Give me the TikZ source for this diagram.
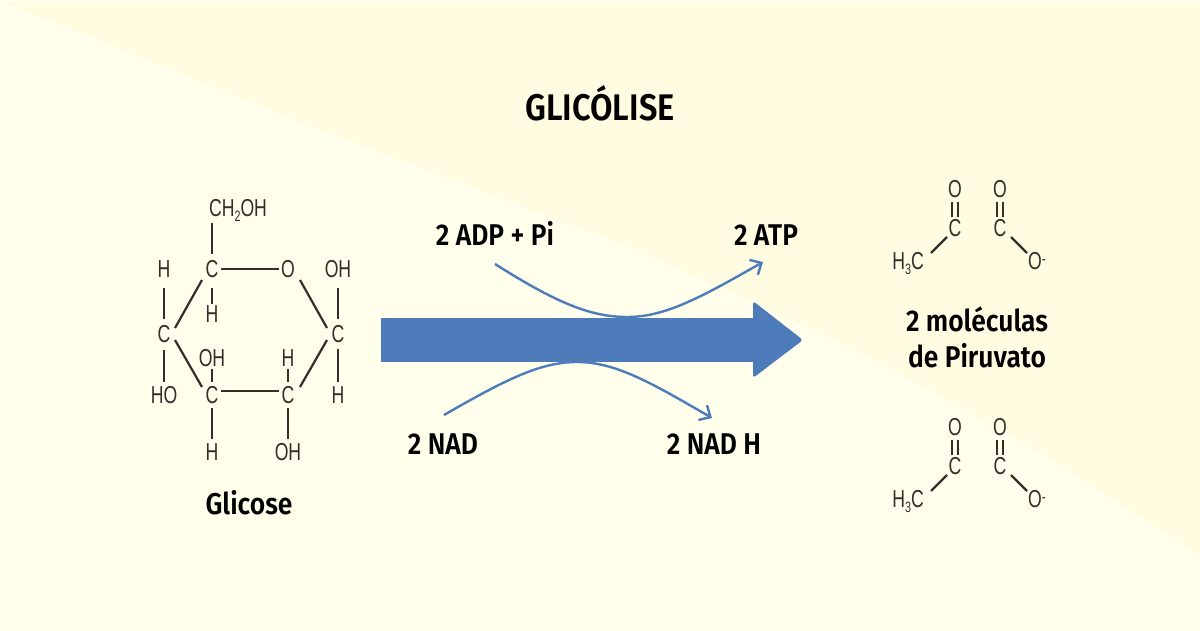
\documentclass[tikz,border=0pt]{standalone}
\usepackage{fontspec}
\usetikzlibrary{arrows.meta}
\setmainfont{Fira Sans}
\newfontfamily\chemfont[FakeStretch=0.72]{Liberation Sans}
\newfontfamily\labfont[FakeStretch=0.88]{Fira Sans SemiBold}
\definecolor{bgpale}{HTML}{FFFFEC}
\definecolor{bgband}{HTML}{FFFCE2}
\definecolor{ink}{HTML}{332E2A}
\definecolor{flow}{HTML}{4E7CBA}
\newcommand{\subtwo}[1]{\raisebox{-5pt}{\fontsize{15}{15}\selectfont #1}}
\tikzset{
  x=1pt,y=-1pt,
  atom/.style={inner sep=0pt,outer sep=0pt,minimum width=18pt,minimum height=30pt,text height=17pt,text depth=0pt,text=ink,font=\chemfont\fontsize{24.5}{24.5}\selectfont},
  sideatom/.style={atom,minimum height=26pt},
  bond/.style={draw=ink,line width=2.2pt},
  heading/.style={inner sep=0pt,text=black,font=\labfont\fontsize{37}{37}\selectfont},
  caption/.style={inner sep=0pt,text=black,text height=20pt,text depth=0pt,font=\labfont\fontsize{30}{30}\selectfont},
  thinflow/.style={draw=flow,line width=2.4pt,-{Straight Barb[length=9pt,width=17pt,line width=2.4pt]}},
}
\begin{document}
\begin{tikzpicture}
\useasboundingbox (0,0) rectangle (1200,631);
\fill[bgpale] (0,0) rectangle (1200,631);
\fill[bgband] (5,2) -- (300,122) -- (637,250) -- (820,333) -- (890,368) -- (1050,458) -- (1200,556) -- (1200,2) -- cycle;

% title
\node[heading] (title) at (600,103) {GLICÓLISE};

% glucose
\node[sideatom] (ch2oh) at (238,208) {CH\subtwo{2}OH};
\node[atom] (c1) at (212,269) {C};
\node[atom] (o5) at (288,269) {O};
\node[sideatom] (oh1) at (338,269) {OH};
\node[sideatom] (h4) at (164,269) {H};
\node[sideatom] (h1) at (212,314) {H};
\node[atom] (c4) at (164,334) {C};
\node[atom] (c6) at (338,334) {C};
\node[sideatom] (oh3) at (212,358) {OH};
\node[sideatom] (h3) at (288,358) {H};
\node[atom] (c3) at (212,395) {C};
\node[atom] (c2) at (288,395) {C};
\node[sideatom] (ho) at (164,395) {HO};
\node[sideatom] (h6) at (338,395) {H};
\node[sideatom] (h5) at (212,452) {H};
\node[sideatom] (oh2) at (288,452) {OH};

\draw[bond] ([xshift=-26pt,yshift=-2pt]ch2oh.south) -- (c1.north);
\draw[bond] (c1) -- (o5);
\draw[bond,shorten <=4pt,shorten >=-3pt] (c1) -- (h1);
\draw[bond] ([shift={(-10,11)}]c1.center) -- ([shift={(11,-6)}]c4.center);
\draw[bond,shorten <=6pt] (h4) -- (c4);
\draw[bond,shorten >=0pt,shorten <=1pt] (c4) -- (ho);
\draw[bond] ([shift={(11,6)}]c4.center) -- ([shift={(-10,-8)}]c3.center);
\draw[bond,shorten <=-2pt,shorten >=-2pt] (oh3) -- (c3);
\draw[bond] ([yshift=4pt]c3.east) -- ([yshift=4pt]c2.west);
\draw[bond,shorten <=-2pt] (c3) -- (h5);
\draw[bond,shorten <=-2pt,shorten >=-2pt] (h3) -- (c2);
\draw[bond,shorten <=-2pt] (c2) -- (oh2);
\draw[bond] ([shift={(12,-8)}]c2.center) -- ([shift={(-11,6)}]c6.center);
\draw[bond] ([shift={(12,11)}]o5.center) -- ([shift={(-11,-6)}]c6.center);
\draw[bond,shorten <=6pt] (oh1) -- (c6);
\draw[bond,shorten >=0pt] (c6) -- (h6);

\node[caption] (glicose) at (249,504) {Glicose};

% flow arrows
\coordinate (adpstart) at (495,264);
\coordinate (atpend) at (763,262);
\coordinate (nadstart) at (444,415);
\coordinate (nadhend) at (712,418);
\draw[thinflow] (adpstart) .. controls (555,302) and (590,317) .. (627,317) .. controls (665,317) and (700,298) .. (atpend);
\draw[thinflow] (nadstart) .. controls (505,380) and (540,362) .. (577,362) .. controls (615,362) and (650,382) .. (nadhend);
\fill[flow] (381,318) rectangle (760,362);
\fill[flow,rounded corners=3pt] (753,301) -- (803,340) -- (753,378) -- cycle;

\node[caption] (adp) at (495,236) {2 ADP + Pi};
\node[caption] (atp) at (766,236) {2 ATP};
\node[caption] (nad) at (443,444) {2 NAD};
\node[caption] (nadh) at (714,444) {2 NAD H};
\node[caption] (pirA) at (977,321) {2 moléculas};
\node[caption] (pirB) at (977,357) {de Piruvato};

% pyruvate
\foreach \n/\dy in {a/0,b/238}{
  \node[atom] (oA\n) at (955,{189+\dy}) {O};
  \node[atom] (cA\n) at (955,{228+\dy}) {C};
  \node[atom] (oB\n) at (1000,{189+\dy}) {O};
  \node[atom] (cB\n) at (1000,{228+\dy}) {C};
  \node[sideatom] (me\n) at (908,{261+\dy}) {H\subtwo{3}C};
  \node[sideatom] (ox\n) at (1037,{261+\dy}) {O\raisebox{5pt}{\fontsize{16}{16}\selectfont -}};
  \draw[bond] ([shift={(-3,-11)}]cA\n.center) -- ([shift={(-3,13)}]oA\n.center);
  \draw[bond] ([shift={(3,-11)}]cA\n.center) -- ([shift={(3,13)}]oA\n.center);
  \draw[bond] ([shift={(-3,-11)}]cB\n.center) -- ([shift={(-3,13)}]oB\n.center);
  \draw[bond] ([shift={(3,-11)}]cB\n.center) -- ([shift={(3,13)}]oB\n.center);
  \draw[bond] ([shift={(23,-8)}]me\n.center) -- ([shift={(-8,9)}]cA\n.center);
  \draw[bond] ([shift={(11,9)}]cB\n.center) -- ([shift={(-10,-8)}]ox\n.center);
}
\end{tikzpicture}
\end{document}
